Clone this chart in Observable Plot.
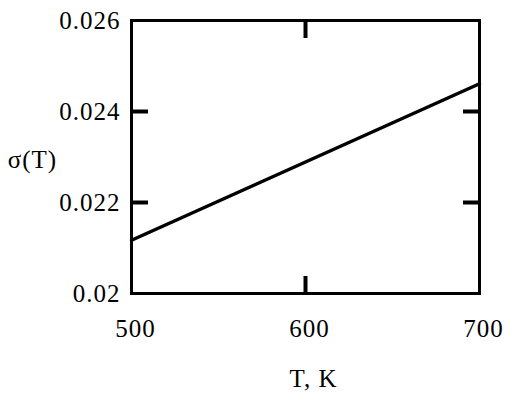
<!DOCTYPE html>
<html>
<head>
<meta charset="utf-8">
<script src="https://cdn.jsdelivr.net/npm/d3@7"></script>
<script src="https://cdn.jsdelivr.net/npm/@observablehq/plot@0.6"></script>
<style>
  html, body { margin: 0; padding: 0; background: #fff; }
  svg text { font-family: "Liberation Serif", "Times New Roman", serif !important; letter-spacing: 1px; }
</style>
</head>
<body>
<div id="chart"></div>
<script>
const temperatures = [500, 700];
const sigmaValues = [0.02117, 0.02461];
const xTicks = [500, 600, 700];
const xTickLabels = ["500", "600", "700"];
const yTicks = [0.02, 0.022, 0.024, 0.026];
const yTickLabels = ["0.02", "0.022", "0.024", "0.026"];
const xInnerTicks = [600];
const yInnerTicks = [0.022, 0.024];
const xTitle = "T, K";
const yTitle = "σ(T)";

const data = temperatures.map((t, i) => ({T: t, sigma: sigmaValues[i]}));
const font = "'Liberation Serif', 'Times New Roman', serif";

const chart = Plot.plot({
  width: 510,
  height: 395,
  marginLeft: 131,
  marginRight: 31,
  marginTop: 20,
  marginBottom: 102,
  style: {fontFamily: font, fontSize: "25px", color: "#000", background: "#fff"},
  x: {domain: [500, 700]},
  y: {domain: [0.02, 0.026]},
  marks: [
    Plot.axisX({anchor: "bottom", ticks: xInnerTicks, tickSize: -17, text: null, label: null, strokeWidth: 4}),
    Plot.axisX({anchor: "top", ticks: xInnerTicks, tickSize: -17, text: null, label: null, strokeWidth: 4}),
    Plot.axisY({anchor: "left", ticks: yInnerTicks, tickSize: -17, text: null, label: null, strokeWidth: 4}),
    Plot.axisY({anchor: "right", ticks: yInnerTicks, tickSize: -17, text: null, label: null, strokeWidth: 4}),
    Plot.axisX({anchor: "bottom", ticks: xTicks, tickSize: 0, tickPadding: 26, dx: 4,
      tickFormat: d => xTickLabels[xTicks.indexOf(d)], label: null, fontSize: 25}),
    Plot.axisY({anchor: "left", ticks: yTicks, tickSize: 0, tickPadding: 11,
      tickFormat: d => yTickLabels[yTicks.indexOf(d)], label: null, fontSize: 25}),
    Plot.frame({stroke: "#000", strokeWidth: 3}),
    Plot.line(data, {x: "T", y: "sigma", stroke: "#000", strokeWidth: 3.5}),
    Plot.text([yTitle], {frameAnchor: "left", dx: -99, dy: 3, textAnchor: "middle", fontSize: 25}),
    Plot.text([xTitle], {frameAnchor: "bottom", dx: 8, dy: 85, textAnchor: "middle", lineAnchor: "middle", fontSize: 25})
  ]
});
document.getElementById("chart").appendChild(chart);
</script>
</body>
</html>
